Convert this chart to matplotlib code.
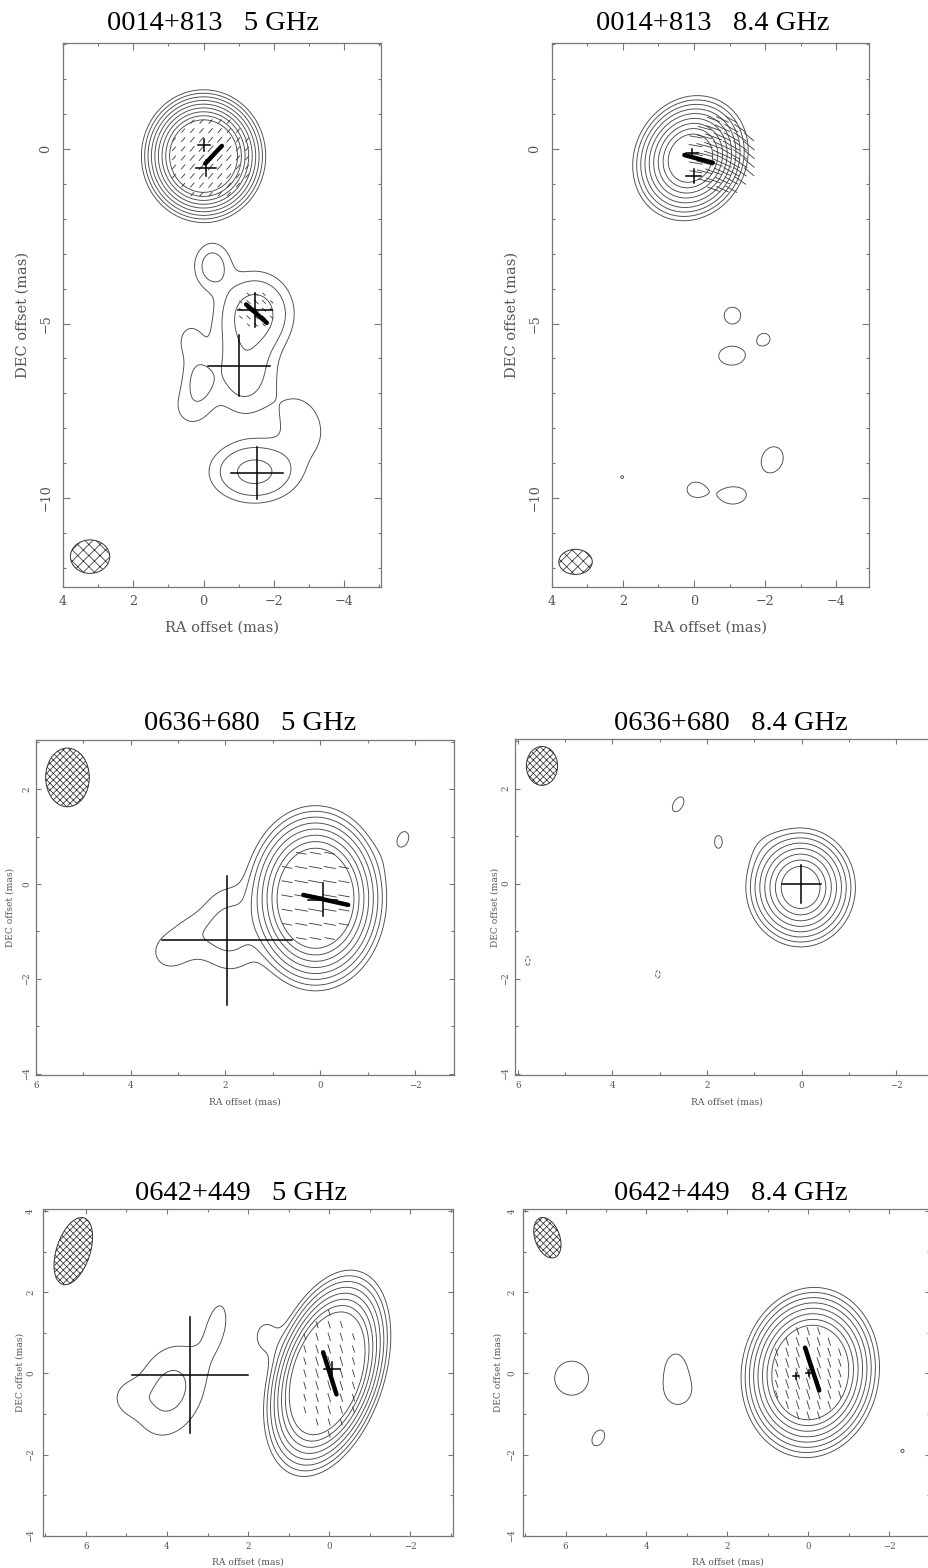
import numpy as np
import matplotlib
matplotlib.use("Agg")
import matplotlib.pyplot as plt
from matplotlib.patches import Ellipse
from matplotlib.collections import LineCollection
from matplotlib.ticker import MultipleLocator

plt.rcParams['hatch.linewidth'] = 0.55
plt.rcParams['axes.unicode_minus'] = True

FIG_W, FIG_H = 929, 1568

# ---------------------------------------------------------------- data
titles = ["0014+813   5 GHz", "0014+813   8.4 GHz",
          "0636+680   5 GHz", "0636+680   8.4 GHz",
          "0642+449   5 GHz", "0642+449   8.4 GHz"]

# brightness model components:
# x, y (mas), peak (units of the lowest contour), sigma_major, sigma_minor, PA (deg), profile exponent
comps_0014_5 = [
    (0.00, -0.20, 26600, 0.187, 0.174, 0, 1.3),
    (-1.47, -4.70, 5.4, 0.65, 0.60, 0, 2),
    (-1.15, -6.25, 3.2, 0.85, 0.55, 0, 2),
    (-0.25, -3.35, 2.8, 0.45, 0.35, 0, 2),
    (0.10, -6.60, 2.1, 0.45, 0.32, 0, 2),
    (0.40, -5.50, 1.2, 0.50, 0.35, 0, 2),
    (0.35, -7.40, 1.3, 0.50, 0.45, 0, 2),
    (-1.45, -9.25, 5.0, 0.72, 0.50, 90, 2),
    (-2.80, -7.90, 1.5, 0.80, 0.55, 20, 2),
]
comps_0014_8 = [
    (0.10, -0.26, 2440, 0.222, 0.190, -25, 1.3),
    (-1.08, -4.76, 1.25, 0.34, 0.34, 0, 2),
    (-1.99, -5.43, 1.10, 0.27, 0.27, 0, 2),
    (-1.06, -5.93, 1.30, 0.50, 0.36, 90, 2),
    (-2.20, -8.90, 1.30, 0.52, 0.41, -20, 2),
    (-0.02, -9.75, 1.20, 0.33, 0.30, 90, 2),
    (-1.09, -9.93, 1.30, 0.47, 0.33, 90, 2),
    (2.02, -9.40, 1.02, 0.20, 0.20, 0, 2),
]
comps_0636_5 = [
    (0.10, -0.30, 6700, 0.215, 0.165, 0, 1.3),
    (1.90, -0.95, 2.6, 0.60, 0.45, 0, 2),
    (2.75, -1.10, 1.15, 0.35, 0.35, 0, 2),
    (3.20, -1.45, 1.35, 0.30, 0.30, 0, 2),
    (-1.75, 0.95, 1.08, 0.40, 0.27, -20, 2),
]
comps_0636_8 = [
    (0.02, -0.08, 700, 0.173, 0.160, 0, 1.3),
    (0.75, 0.75, 0.6, 0.30, 0.30, 0, 2),
    (2.61, 1.67, 1.10, 0.39, 0.23, -30, 2),
    (1.76, 0.88, 1.10, 0.30, 0.18, 0, 2),
    (5.79, -1.63, -1.05, 0.30, 0.15, 0, 2),
    (3.04, -1.91, -1.05, 0.25, 0.15, 0, 2),
]
comps_0642_5 = [
    (0.05, 0.00, 19700, 0.265, 0.142, -18, 1.3),
    (3.93, -0.43, 2.4, 0.85, 0.60, -20, 2),
    (4.95, -0.60, 1.1, 0.30, 0.30, 0, 2),
    (2.75, 1.25, 1.15, 0.70, 0.30, -10, 2),
    (1.55, 0.90, 1.3, 0.40, 0.30, 0, 2),
]
comps_0642_8 = [
    (-0.05, 0.02, 8780, 0.226, 0.183, -8, 1.3),
    (5.85, -0.12, 1.4, 0.51, 0.51, 0, 2),
    (5.19, -1.60, 1.1, 0.45, 0.30, -30, 2),
    (3.22, -0.40, 1.3, 0.50, 0.45, 0, 2),
    (3.28, 0.20, 1.1, 0.30, 0.20, 0, 2),
    (-2.33, -1.91, 1.02, 0.20, 0.20, 0, 2),
]

n_levels = [9, 9, 8, 8, 8, 8]

# polarisation vector fields:
# centre x, y, sigma x, sigma y, EVPA (deg), EVPA gradient (deg/mas in x), grid step, max length, threshold
pol_0014_5 = [(-0.20, -0.25, 0.75, 0.80, 140, 0, 0.26, 0.24, 0.30),
              (-1.50, -4.60, 0.35, 0.35, 48, 0, 0.22, 0.18, 0.35)]
pol_0014_8 = [(-0.80, -0.15, 0.55, 0.70, 65, 20, 0.25, 0.60, 0.30)]
pol_0636_5 = [(0.10, -0.25, 0.55, 0.80, 80, 0, 0.30, 0.32, 0.35)]
pol_0636_8 = []
pol_0642_5 = [(0.00, 0.00, 0.55, 1.00, 17, 0, 0.30, 0.26, 0.30)]
pol_0642_8 = [(0.00, 0.00, 0.60, 0.80, 18, 0, 0.26, 0.30, 0.30)]

# core EVPA bars: centre x, y, length (mas), EVPA (deg)
bars_0014_5 = [(-0.285, -0.16, 0.69, 137), (-1.505, -4.715, 0.79, 48)]
bars_0014_8 = [(-0.13, -0.28, 0.83, 74.6)]
bars_0636_5 = [(-0.115, -0.335, 0.97, 77.5)]
bars_0636_8 = []
bars_0642_5 = [(-0.015, 0.00, 1.09, 17.6)]
bars_0642_8 = [(-0.095, 0.105, 1.11, 18.4)]

# model-fit component markers: x, y, half-size in x, half-size in y
cross_0014_5 = [(-0.02, 0.11, 0.17, 0.17), (-0.07, -0.54, 0.28, 0.23),
                (-1.47, -4.61, 0.48, 0.48), (-1.02, -6.21, 0.88, 0.88),
                (-1.52, -9.28, 0.74, 0.75)]
cross_0014_8 = [(0.05, -0.11, 0.17, 0.11), (0.01, -0.77, 0.21, 0.19)]
cross_0636_5 = [(1.97, -1.19, 1.37, 1.37), (-0.05, -0.33, 0.30, 0.35)]
cross_0636_8 = [(0.01, -0.01, 0.41, 0.40)]
cross_0642_5 = [(3.44, -0.04, 1.43, 1.43), (-0.06, 0.11, 0.20, 0.18)]
cross_0642_8 = [(0.31, -0.07, 0.07, 0.07), (-0.02, 0.00, 0.07, 0.07)]

# restoring beams: x, y, major, minor (full axes, mas), PA (deg)
beam_0014_5 = (3.23, -11.68, 1.12, 0.96, 90)
beam_0014_8 = (3.33, -11.83, 0.94, 0.72, 90)
beam_0636_5 = (5.33, 2.25, 1.24, 0.92, 0)
beam_0636_8 = (5.49, 2.48, 0.82, 0.66, 0)
beam_0642_5 = (6.31, 3.01, 1.72, 0.83, -18)
beam_0642_8 = (6.45, 3.34, 1.04, 0.61, 20)

xlims = [(4.0, -5.05), (4.0, -4.92), (6.0, -2.82), (6.06, -2.80), (7.05, -3.06), (7.06, -3.01)]
ylims = [(-12.55, 3.05), (-12.55, 3.05), (-4.03, 3.04), (-4.03, 3.04), (-4.0, 4.04), (-4.0, 4.04)]
ymajor = [5, 5, 2, 2, 2, 2]
hatches = ['xxx', 'xxx', 'xxxxx', 'xxxxx', 'xxxxx', 'xxxxx']

comps = [comps_0014_5, comps_0014_8, comps_0636_5, comps_0636_8, comps_0642_5, comps_0642_8]
pols = [pol_0014_5, pol_0014_8, pol_0636_5, pol_0636_8, pol_0642_5, pol_0642_8]
bars = [bars_0014_5, bars_0014_8, bars_0636_5, bars_0636_8, bars_0642_5, bars_0642_8]
crosses = [cross_0014_5, cross_0014_8, cross_0636_5, cross_0636_8, cross_0642_5, cross_0642_8]
beams = [beam_0014_5, beam_0014_8, beam_0636_5, beam_0636_8, beam_0642_5, beam_0642_8]

# ---------------------------------------------------------------- layout (pixels: left, top, right, bottom)
boxes = [(63, 42.7, 381, 587), (551.7, 42.7, 869, 587),
         (35.7, 740, 454, 1075), (515, 739.3, 934, 1075),
         (43.3, 1209.3, 453.3, 1535.7), (522.7, 1209.3, 930, 1535.7)]
title_pos = [(213, 30), (712.5, 30), (250, 730), (730.8, 730), (240.8, 1200), (730.8, 1200)]
xlabel_pos = [(222, 628), (710, 628), (245, 1102), (726.7, 1102), (248, 1562), (728, 1562)]
ylabel_pos = [(23, 315), (511.7, 315), (10, 907), (495, 907), (20, 1372), (498, 1372)]
label_size = [10.5, 10.5, 6.6, 6.6, 6.6, 6.6]
tick_size = [9.2, 9.2, 6.2, 6.2, 6.2, 6.2]
xpad = [6.0, 6.0, 4.5, 4.5, 4.4, 4.4]
ypad = [7.5, 7.5, 3.2, 3.6, 5.8, 4.4]
tick_len = [(4.7, 2.5), (4.7, 2.5), (3.4, 2.0), (3.4, 2.0), (3.6, 2.1), (3.6, 2.1)]

GREY = '#4a4a4a'
TXT = '#555555'

fig = plt.figure(figsize=(FIG_W / 100, FIG_H / 100), dpi=100)


def model_image(X, Y, comp_list):
    img = np.zeros_like(X)
    for (cx, cy, amp, smaj, smin, pa, beta) in comp_list:
        t = np.radians(pa)
        dx, dy = X - cx, Y - cy
        u = dx * np.sin(t) + dy * np.cos(t)
        v = dx * np.cos(t) - dy * np.sin(t)
        q = u ** 2 / smaj ** 2 + v ** 2 / smin ** 2
        img += amp * np.exp(-0.5 * q ** (beta / 2.0))
    return img


for i in range(6):
    l, t, r, b = boxes[i]
    ax = fig.add_axes([l / FIG_W, 1 - b / FIG_H, (r - l) / FIG_W, (b - t) / FIG_H])
    ax.set_xlim(*xlims[i])
    ax.set_ylim(*ylims[i])

    # contour map
    xs = np.linspace(min(xlims[i]), max(xlims[i]), 600)
    ys = np.linspace(min(ylims[i]), max(ylims[i]), 900 if i < 2 else 500)
    X, Y = np.meshgrid(xs, ys)
    img = model_image(X, Y, comps[i])
    levels = 2.0 ** np.arange(n_levels[i])
    ax.contour(X, Y, img, levels=levels, colors=GREY, linewidths=0.65)
    if img.min() < -1:
        ax.contour(X, Y, img, levels=[-1.0], colors=GREY, linewidths=0.6, linestyles='--')

    # polarisation vectors
    segs = []
    for (cx, cy, sx, sy, evpa, grad, step, lmax, thr) in pols[i]:
        gx = cx + step * np.arange(-12, 13)
        gy = cy + step * np.arange(-12, 13)
        GX, GY = np.meshgrid(gx, gy)
        p = np.exp(-0.5 * ((GX - cx) ** 2 / sx ** 2 + (GY - cy) ** 2 / sy ** 2))
        m = p > thr
        ang = np.radians(evpa + grad * (GX - cx))
        L = lmax * (0.45 + 0.55 * p)
        hx = 0.5 * L * np.sin(ang)
        hy = 0.5 * L * np.cos(ang)
        for x0, y0, ddx, ddy in zip(GX[m], GY[m], hx[m], hy[m]):
            segs.append([(x0 - ddx, y0 - ddy), (x0 + ddx, y0 + ddy)])
    if segs:
        ax.add_collection(LineCollection(segs, colors='#3a3a3a', linewidths=0.6))

    # EVPA bars
    for (cx, cy, ln, evpa) in bars[i]:
        a = np.radians(evpa)
        ddx, ddy = 0.5 * ln * np.sin(a), 0.5 * ln * np.cos(a)
        ax.plot([cx - ddx, cx + ddx], [cy - ddy, cy + ddy], color='black', lw=3.2,
                solid_capstyle='round', zorder=5)

    # component markers
    for (cx, cy, hx_, hy_) in crosses[i]:
        ax.plot([cx - hx_, cx + hx_], [cy, cy], color='black', lw=1.1, zorder=6)
        ax.plot([cx, cx], [cy - hy_, cy + hy_], color='black', lw=1.1, zorder=6)

    # beam
    bx, by, bmaj, bmin, bpa = beams[i]
    ax.add_patch(Ellipse((bx, by), width=bmaj, height=bmin, angle=90 - bpa,
                         facecolor='none', edgecolor='#333333', hatch=hatches[i], lw=0.7))

    # axes styling
    ax.xaxis.set_major_locator(MultipleLocator(2))
    ax.xaxis.set_minor_locator(MultipleLocator(1))
    ax.yaxis.set_major_locator(MultipleLocator(ymajor[i]))
    ax.yaxis.set_minor_locator(MultipleLocator(1))
    ax.tick_params(which='both', direction='in', top=True, right=True, colors='#777777',
                   width=0.8, labelcolor=TXT)
    ax.tick_params(which='major', length=tick_len[i][0])
    ax.tick_params(which='minor', length=tick_len[i][1])
    ax.tick_params(axis='x', labelsize=tick_size[i], pad=xpad[i])
    ax.tick_params(axis='y', labelsize=tick_size[i], pad=ypad[i], labelrotation=90)
    for lab in ax.get_yticklabels():
        lab.set_verticalalignment('center')
    for lab in ax.get_xticklabels() + ax.get_yticklabels():
        lab.set_family('DejaVu Serif')
    for sp in ax.spines.values():
        sp.set_color('#777777')
        sp.set_linewidth(0.9)

    tx, ty = title_pos[i]
    fig.text(tx / FIG_W, 1 - ty / FIG_H, titles[i], ha='center', va='baseline',
             fontsize=20.5, family='Liberation Serif', color='black')
    lx, ly = xlabel_pos[i]
    fig.text(lx / FIG_W, 1 - ly / FIG_H, 'RA offset (mas)', ha='center', va='center',
             fontsize=label_size[i], family='DejaVu Serif', color=TXT)
    yx, yy = ylabel_pos[i]
    fig.text(yx / FIG_W, 1 - yy / FIG_H, 'DEC offset (mas)', ha='center', va='center',
             rotation=90, fontsize=label_size[i], family='DejaVu Serif', color=TXT)

fig.savefig('out.png', dpi=100)
